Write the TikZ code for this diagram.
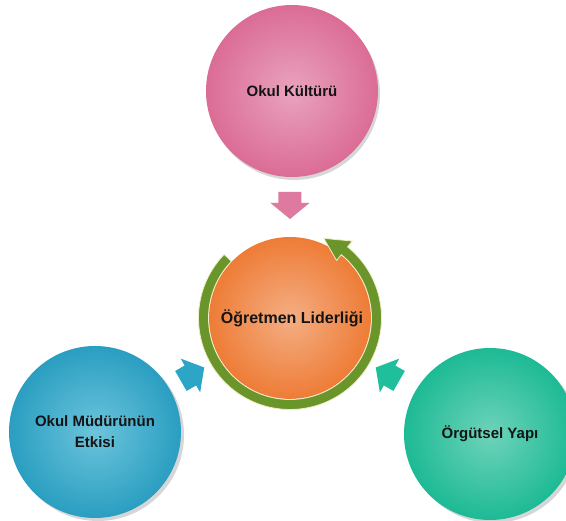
\documentclass[tikz,border=0pt]{standalone}
\usepackage{fontspec}
\setmainfont{Liberation Sans}
\definecolor{pinkin}{HTML}{E9A3BE}
\definecolor{pinkout}{HTML}{DB6C95}
\definecolor{bluein}{HTML}{6CC4DB}
\definecolor{blueout}{HTML}{2A9EC1}
\definecolor{tealin}{HTML}{6ED3BA}
\definecolor{tealout}{HTML}{1DBA95}
\definecolor{orangein}{HTML}{F4AE84}
\definecolor{orangeout}{HTML}{EE7C36}
\definecolor{ringgreen}{HTML}{6A952A}
\definecolor{ringedge}{HTML}{F1EDC6}
\definecolor{pinkarrow}{HTML}{DE79A0}
\definecolor{bluearrow}{HTML}{2CA5C6}
\definecolor{tealarrow}{HTML}{20BF9B}
\begin{document}
\begin{tikzpicture}[x=1pt,y=1pt,
  bubble/.style={circle, minimum size=172pt, inner sep=0pt, text=black!92,
    font=\bfseries\fontsize{15}{21}\selectfont, align=center},
  shade/.style={fill=black, opacity=0.16}]
\useasboundingbox (-290,-203) rectangle (276,318);

% soft shadows behind the outer circles
\fill[shade] (4,224) circle (86);
\fill[shade] (-192,-117) circle (86);
\fill[shade] (203,-119) circle (86);

% outer circles
\node[bubble, inner color=pinkin, outer color=pinkout] (kultur) at (2,227) {Okul Kültürü};
\node[bubble, inner color=bluein, outer color=blueout] (mudur) at (-195,-114) {Okul Müdürünün\\Etkisi};
\node[bubble, inner color=tealin, outer color=tealout] (yapi) at (200,-116) {Örgütsel Yapı};

% central circle
\node[circle, minimum size=162pt, inner sep=0pt, inner color=orangein, outer color=orangeout] (lider) at (0,0) {};
\node[text=black!92, font=\bfseries\fontsize{16}{20}\selectfont] (liderlabel) at (2,0) {Öğretmen Liderliği};

% circular arrow around the centre
\fill[ringgreen, draw=ringedge, line width=0.8pt, line join=miter]
  (136:91.5) arc[start angle=136, end angle=411, radius=91.5]
  -- (411:99) -- (427:86.5) -- (411:74) -- (411:81.5)
  arc[start angle=411, end angle=136, radius=81.5] -- cycle;

% block arrows pointing inward
\foreach \ang/\col in {90/pinkarrow, 210/bluearrow, 330/tealarrow}
  \fill[\col, rotate=\ang] (99,0) -- (115,19.5) -- (115,11.5) -- (126,11.5)
    -- (126,-11.5) -- (115,-11.5) -- (115,-19.5) -- cycle;
\end{tikzpicture}
\end{document}
